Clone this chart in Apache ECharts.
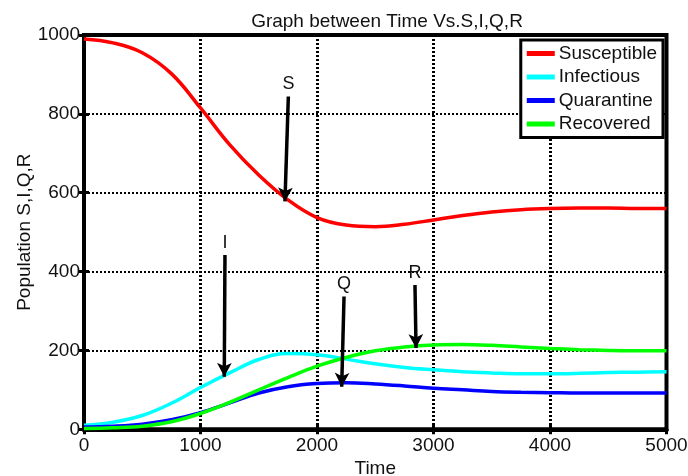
<!DOCTYPE html>
<html>
<head>
<meta charset="utf-8">
<script src="https://cdn.jsdelivr.net/npm/echarts@6/dist/echarts.min.js"></script>
<style>html,body{margin:0;padding:0;background:#fff}#c{width:688px;height:476px}</style>
</head>
<body>
<div id="c"></div>
<script>
const time = [0,250,500,750,1000,1250,1500,1750,2000,2250,2500,2750,3000,3250,3500,3750,4000,4250,4500,4750,5000];
const susceptible = [990,980,955,902,815,722,645,582,537,518,514,520,531,542,551,557,560,561,561,560,560];
const infectious  = [10,18,35,66,106,143,177,192,189,178,166,157,151,146,143,141,141,142,144,145,146];
const quarantine  = [6,8,13,24,42,67,92,108,116,118,115,110,104,100,96,94,93,92,92,92,92];
const recovered   = [2,4,8,19,40,68,100,131,160,182,199,209,214,215,213,209,205,202,200,199,199];
const seriesNames = ['Susceptible','Infectious','Quarantine','Recovered'];
const arrowLabels = ['S','I','Q','R'];
const arrowStart = [[1754,844],[1210,442],[2232,337],[2841,366]];
const arrowEnd   = [[1725,578],[1204,133],[2212,108],[2850,206]];
const xTicks = [0,1000,2000,3000,4000,5000];
const yTicks = [0,200,400,600,800,1000];

const colors = ['#ff0000','#00ffff','#0000ff','#00ff00'];
const values = [susceptible, infectious, quarantine, recovered];
const FONT = 'Liberation Sans, Arial, sans-serif';

const chart = echarts.init(document.getElementById('c'));
const series = seriesNames.map((n,k)=>({
  name:n, type:'line', smooth:0.4, showSymbol:false, symbol:'none',
  data: time.map((t,i)=>[t, values[k][i]]),
  lineStyle:{width:3.5, color:colors[k]}, itemStyle:{color:colors[k]}, z:3
}));
series.push({
  name:'arrows', type:'line', data:[], silent:true,
  markLine:{
    silent:true, symbol:['none','arrow'], symbolSize:[11,14],
    lineStyle:{color:'#000', width:3.5, type:'solid'},
    label:{show:true, position:'start', distance:3, color:'#111', fontSize:18, fontFamily:FONT},
    emphasis:{disabled:true},
    data: arrowLabels.map((l,i)=>[
      {coord:arrowStart[i], label:{formatter:l}},
      {coord:arrowEnd[i]}
    ])
  },
  z:5
});

const axisCommon = {
  type:'value', min:0,
  axisTick:{show:true, inside:true, length:5, lineStyle:{color:'#000', width:3}},
  axisLine:{show:true, lineStyle:{color:'#000', width:4}},
};
const fmt = v => String(v);
chart.setOption({
  animation:false,
  backgroundColor:'#fff',
  title:{text:'Graph between Time Vs.S,I,Q,R', left:382, top:7, textAlign:'center',
    textStyle:{fontSize:19, fontWeight:'normal', color:'#111', fontFamily:FONT}},
  grid:{left:84, right:21.5, top:35, bottom:46.7, containLabel:false, outerBoundsMode:'none',
    show:true, borderColor:'#000', borderWidth:4},
  legend:{
    orient:'vertical', right:25, top:40, data:seriesNames,
    backgroundColor:'#fff', borderColor:'#000', borderWidth:3, padding:[4,6,4,6],
    itemWidth:28, itemHeight:5, itemGap:4.5, icon:'rect',
    textStyle:{fontSize:19, color:'#111', fontFamily:FONT, lineHeight:19, padding:[0,0,0,-1]}
  },
  xAxis:[
    Object.assign({}, axisCommon, {max:5000, interval:1000, position:'bottom',
      name:'Time', nameLocation:'middle', nameGap:30, nameMoveOverlap:false,
      nameTextStyle:{fontSize:19, color:'#111', fontFamily:FONT},
      axisLabel:{fontSize:19, color:'#111', fontFamily:FONT, margin:7, formatter:fmt},
      splitLine:{show:true, lineStyle:{color:'#000', width:3, type:[2,2]}}}),
    Object.assign({}, axisCommon, {max:5000, interval:1000, position:'top',
      axisLabel:{show:false}, splitLine:{show:false}})
  ],
  yAxis:[
    Object.assign({}, axisCommon, {max:1000, interval:200, position:'left',
      name:'Population S,I,Q,R', nameLocation:'middle', nameGap:50, nameRotate:90, nameMoveOverlap:false,
      nameTextStyle:{fontSize:19, color:'#111', fontFamily:FONT},
      axisLabel:{fontSize:19, color:'#111', fontFamily:FONT, margin:4, formatter:fmt},
      splitLine:{show:true, lineStyle:{color:'#000', width:2, type:[2,2]}}}),
    Object.assign({}, axisCommon, {max:1000, interval:200, position:'right',
      axisLabel:{show:false}, splitLine:{show:false}})
  ],
  series: series
});
</script>
</body>
</html>
